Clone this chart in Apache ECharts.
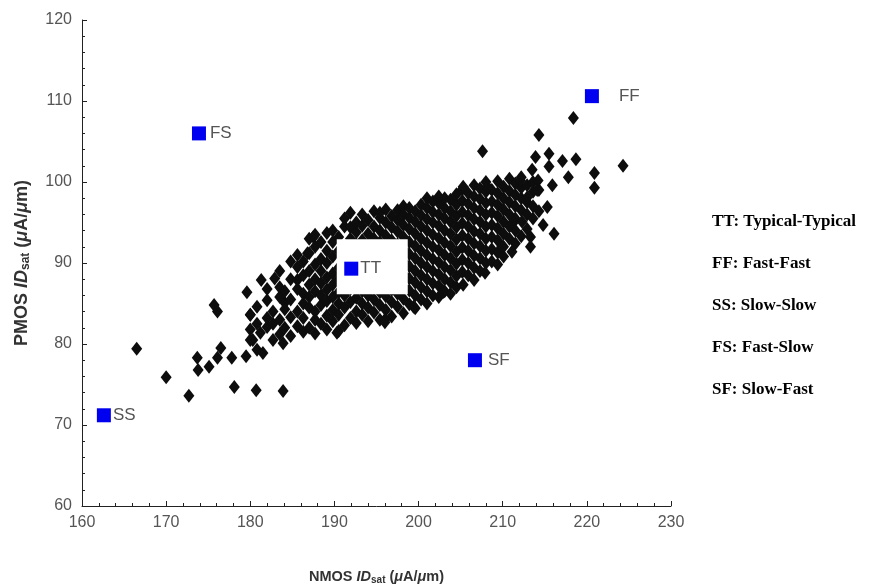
<!DOCTYPE html>
<html>
<head>
<meta charset="utf-8">
<script src="https://cdn.jsdelivr.net/npm/echarts@6/dist/echarts.min.js"></script>
<style>
  html, body { margin: 0; padding: 0; background: #fff; }
  #chart { width: 896px; height: 588px; }
</style>
</head>
<body>
<div id="chart"></div>
<script>
// Process corners (blue squares)
const cornerNames = ['TT', 'FF', 'SS', 'FS', 'SF'];
const cornerX = [192.0, 220.6, 162.6, 173.9, 206.7];
const cornerY = [89.3, 110.6, 71.2, 106.0, 78.0];

// Right-hand key
const keyLines = ['TT: Typical-Typical', 'FF: Fast-Fast', 'SS: Slow-Slow', 'FS: Fast-Slow', 'SF: Slow-Fast'];

// Monte Carlo samples: sparse tails read one by one
const lowTail = [
    [166.5, 79.4], [170.0, 75.9], [172.7, 73.6], [173.7, 78.3], [173.8, 76.8], [175.1, 77.2],
    [176.1, 78.3], [176.5, 79.5], [177.8, 78.3], [178.1, 74.7], [179.5, 78.5], [180.7, 74.3],
    [183.9, 74.2], [175.7, 84.8], [176.1, 84.0], [179.6, 86.4], [180.0, 83.6], [181.3, 87.9],
    [182.9, 88.1], [182.0, 85.4], [184.1, 85.1], [180.3, 80.5], [181.2, 81.4], [182.0, 82.1],
    [182.7, 80.5], [183.9, 80.1], [180.8, 79.3], [181.5, 78.9], [185.6, 87.9], [187.5, 93.2],
    [189.1, 93.7], [186.8, 91.2], [190.3, 81.4]
];
const highTail = [
    [218.4, 107.9], [214.3, 105.8], [207.6, 103.8], [213.9, 103.1], [215.5, 103.5], [217.1, 102.6],
    [218.7, 102.8], [215.5, 101.9], [213.5, 101.5], [217.8, 100.6], [220.9, 101.1], [220.9, 99.3],
    [224.3, 102.0], [212.1, 100.2], [214.2, 100.2], [215.9, 99.6], [214.1, 99.0], [212.9, 98.1],
    [215.3, 96.9], [214.8, 94.7], [216.1, 93.6], [213.3, 93.2], [213.3, 92.0], [211.1, 91.4],
    [209.9, 92.0], [207.9, 88.8], [212.3, 95.1], [211.2, 94.9], [205.3, 99.4], [208.2, 99.4],
    [205.3, 87.3], [202.9, 86.4], [199.6, 84.4], [196.0, 83.0], [199.4, 84.6], [196.0, 82.7]
];

// Dense core, read column by column: [x, [y values]]
const coreColumns = [
    [180.0, [80.5, 83.6, 81.8]],
    [180.8, [82.5, 84.6]],
    [182.0, [83.2, 86.8]],
    [182.7, [84.0, 82.5]],
    [183.5, [81.2, 83.0, 85.8, 87.0, 89.0]],
    [184.1, [82.0, 84.3, 86.5]],
    [184.8, [81.0, 83.3, 85.5, 88.0, 90.2]],
    [185.6, [82.2, 84.0, 86.8, 89.5, 91.0]],
    [186.3, [81.5, 83.2, 85.0, 86.2, 88.5, 90.2]],
    [187.0, [82.0, 84.5, 85.8, 87.3, 89.0, 91.2, 93.0]],
    [187.7, [81.3, 83.0, 84.0, 86.5, 88.0, 89.8, 92.0, 93.5]],
    [188.4, [82.5, 84.8, 86.0, 87.5, 89.0, 90.5, 92.6]],
    [189.1, [81.8, 83.5, 85.3, 86.7, 88.2, 90.0, 91.5]],
    [189.8, [82.8, 84.2, 85.8, 87.3, 88.7, 90.8, 92.6, 94.0]],
    [190.5, [81.6, 83.6, 85.0, 86.4, 88.0, 89.4, 91.5, 93.2]],
    [191.2, [82.3, 84.5, 86.0, 87.5, 89.0, 90.5, 92.0, 94.5, 95.5]],
    [191.9, [83.2, 85.2, 86.8, 88.3, 89.8, 91.3, 93.0, 94.4, 96.2]],
    [192.6, [82.6, 84.0, 85.7, 87.4, 88.9, 90.6, 92.3, 93.8, 95.0]],
    [193.3, [83.6, 85.0, 86.5, 88.0, 89.6, 91.2, 92.8, 94.6, 96.0]],
    [194.0, [82.8, 84.5, 86.0, 87.6, 89.2, 90.8, 92.2, 93.6, 95.3]],
    [194.7, [83.9, 85.5, 86.9, 88.4, 90.0, 91.6, 93.0, 94.5, 96.4]],
    [195.4, [83.0, 84.8, 86.4, 87.9, 89.5, 91.0, 92.6, 94.0, 95.6, 96.2]],
    [196.1, [84.2, 85.9, 87.3, 88.9, 90.4, 92.0, 93.4, 95.0, 96.6]],
    [196.8, [83.4, 85.2, 86.7, 88.2, 89.8, 91.3, 92.8, 94.4, 95.8]],
    [197.5, [84.6, 86.2, 87.8, 89.3, 90.8, 92.3, 93.9, 95.3, 96.5]],
    [198.2, [83.8, 85.6, 87.1, 88.6, 90.2, 91.7, 93.2, 94.7, 96.0, 97.0]],
    [198.9, [84.9, 86.6, 88.1, 89.6, 91.1, 92.6, 94.2, 95.6, 96.8]],
    [199.6, [86.0, 87.6, 89.0, 90.6, 92.1, 93.6, 95.1, 96.4]],
    [200.3, [85.5, 87.0, 88.5, 90.0, 91.5, 93.0, 94.5, 95.9, 97.2]],
    [201.0, [85.0, 86.5, 88.0, 89.5, 91.0, 92.5, 94.0, 95.4, 96.8, 98.0]],
    [201.7, [86.0, 87.5, 89.0, 90.5, 92.0, 93.5, 95.0, 96.3, 97.6]],
    [202.4, [85.8, 87.2, 88.6, 90.1, 91.6, 93.1, 94.6, 96.0, 97.4, 98.2]],
    [203.1, [86.5, 88.0, 89.5, 91.0, 92.5, 94.0, 95.5, 96.8, 98.0]],
    [203.8, [86.2, 87.6, 89.1, 90.6, 92.1, 93.6, 95.1, 96.4, 97.8]],
    [204.5, [87.0, 88.4, 89.9, 91.4, 92.9, 94.4, 95.8, 97.2, 98.5]],
    [205.2, [88.9, 90.4, 91.9, 93.4, 94.9, 96.3, 97.7, 99.1]],
    [205.9, [88.5, 90.0, 91.5, 93.0, 94.5, 95.9, 97.3, 98.6]],
    [206.6, [87.9, 89.4, 90.9, 92.4, 93.9, 95.4, 96.8, 98.2, 99.6]],
    [207.3, [89.0, 90.6, 92.1, 93.6, 95.1, 96.5, 97.9, 99.2]],
    [208.0, [90.0, 91.5, 93.0, 94.5, 96.0, 97.4, 98.8, 100.0]],
    [208.7, [90.2, 91.7, 93.2, 94.7, 96.2, 97.6, 99.0]],
    [209.4, [89.8, 91.3, 92.8, 94.3, 95.8, 97.2, 98.6, 100.1]],
    [210.1, [90.8, 92.0, 93.6, 95.1, 96.6, 98.0, 99.4]],
    [210.8, [93.0, 94.5, 96.0, 97.5, 98.9, 100.4]],
    [211.5, [92.4, 94.0, 95.5, 97.0, 98.4, 99.8]],
    [212.2, [93.3, 96.5, 98.0, 99.3, 100.6]],
    [212.9, [94.2, 96.0, 97.5, 99.6]],
    [213.6, [95.5, 97.0, 98.8, 100.0]],
    [214.3, [96.4, 99.0]]
];

const corePoints = [];
coreColumns.forEach(col => col[1].forEach(y => corePoints.push([col[0], y])));

const samplePoints = lowTail.concat(corePoints, highTail);

const cornerData = cornerNames.map((name, i) => [cornerX[i], cornerY[i], name]);

// Label placement per corner
const labelOffsets = {
    TT: [0, 0], FF: [18, 0], SS: [0, 0], FS: [2, 0], SF: [4, 0]
};

const chart = echarts.init(document.getElementById('chart'));

const axisLabelColor = '#555';

// axis titles with italic I D and subscript "sat"
function nameRich(size) {
    return {
        b: { fontFamily: 'Liberation Sans', fontWeight: 'bold', fontSize: size, color: '#333' },
        i: { fontFamily: 'Liberation Sans', fontWeight: 'bold', fontStyle: 'italic', fontSize: size, color: '#333' },
        sub: { fontFamily: 'Liberation Sans', fontWeight: 'bold', fontSize: Math.round(size * 0.68), color: '#333', verticalAlign: 'bottom', padding: [Math.round(size * 0.45), 0, 0, 0] }
    };
}

const option = {
    animation: false,
    backgroundColor: '#fff',
    grid: { left: 82, right: 225, top: 20, bottom: 82, outerBoundsMode: 'none' },
    xAxis: {
        type: 'value',
        min: 160,
        max: 230,
        interval: 10,
        name: '{b|NMOS }{i|ID}{sub|sat}{b| (}{i|μ}{b|A/}{i|μ}{b|m)}',
        nameLocation: 'middle',
        nameGap: 62,
        nameTextStyle: { rich: nameRich(14.5) },
        axisLine: { onZero: false, lineStyle: { color: '#222', width: 1 } },
        axisTick: { inside: true, length: 5, lineStyle: { color: '#222' } },
        minorTick: { show: true, splitNumber: 5, length: 3, lineStyle: { color: '#222' } },
        axisLabel: { color: axisLabelColor, fontSize: 16, fontFamily: 'Liberation Sans Narrow, Liberation Sans', margin: 9 },
        splitLine: { show: false }
    },
    yAxis: {
        type: 'value',
        min: 60,
        max: 120,
        interval: 10,
        name: '{b|PMOS }{i|ID}{sub|sat}{b| (}{i|μ}{b|A/}{i|μ}{b|m)}',
        nameLocation: 'middle',
        nameGap: 50,
        nameRotate: 90,
        nameTextStyle: { rich: nameRich(18) },
        axisLine: { onZero: false, lineStyle: { color: '#222', width: 1 } },
        axisTick: { inside: true, length: 5, lineStyle: { color: '#222' } },
        minorTick: { show: true, splitNumber: 5, length: 3, lineStyle: { color: '#222' } },
        axisLabel: { color: axisLabelColor, fontSize: 16, fontFamily: 'Liberation Sans Narrow, Liberation Sans', margin: 10 },
        splitLine: { show: false }
    },
    series: [
        {
            name: 'samples',
            type: 'scatter',
            symbol: 'diamond',
            symbolSize: [11, 14],
            itemStyle: { color: '#0d0d0d', opacity: 1 },
            data: samplePoints,
            z: 2
        },
        {
            // white box behind the TT corner
            name: 'tt-box',
            type: 'scatter',
            symbol: 'rect',
            symbolSize: [71, 55],
            symbolOffset: [21, -2],
            itemStyle: { color: '#fff', opacity: 1 },
            silent: true,
            data: [cornerData[0]],
            z: 3
        },
        {
            name: 'corners',
            type: 'scatter',
            symbol: 'rect',
            symbolSize: 14,
            itemStyle: { color: '#0000f0', opacity: 1 },
            data: cornerData.map(d => ({
                value: d,
                label: {
                    show: true,
                    position: 'right',
                    distance: 2,
                    offset: labelOffsets[d[2]],
                    formatter: d[2],
                    color: '#555',
                    fontSize: 17,
                    fontFamily: 'Liberation Sans Narrow, Liberation Sans'
                }
            })),
            z: 4
        }
    ],
    graphic: keyLines.map((t, i) => ({
        type: 'text',
        left: 712,
        top: 213 + i * 42,
        style: {
            text: t,
            fill: '#000',
            font: 'bold 17px "Liberation Serif"'
        }
    }))
};

chart.setOption(option);
</script>
</body>
</html>
